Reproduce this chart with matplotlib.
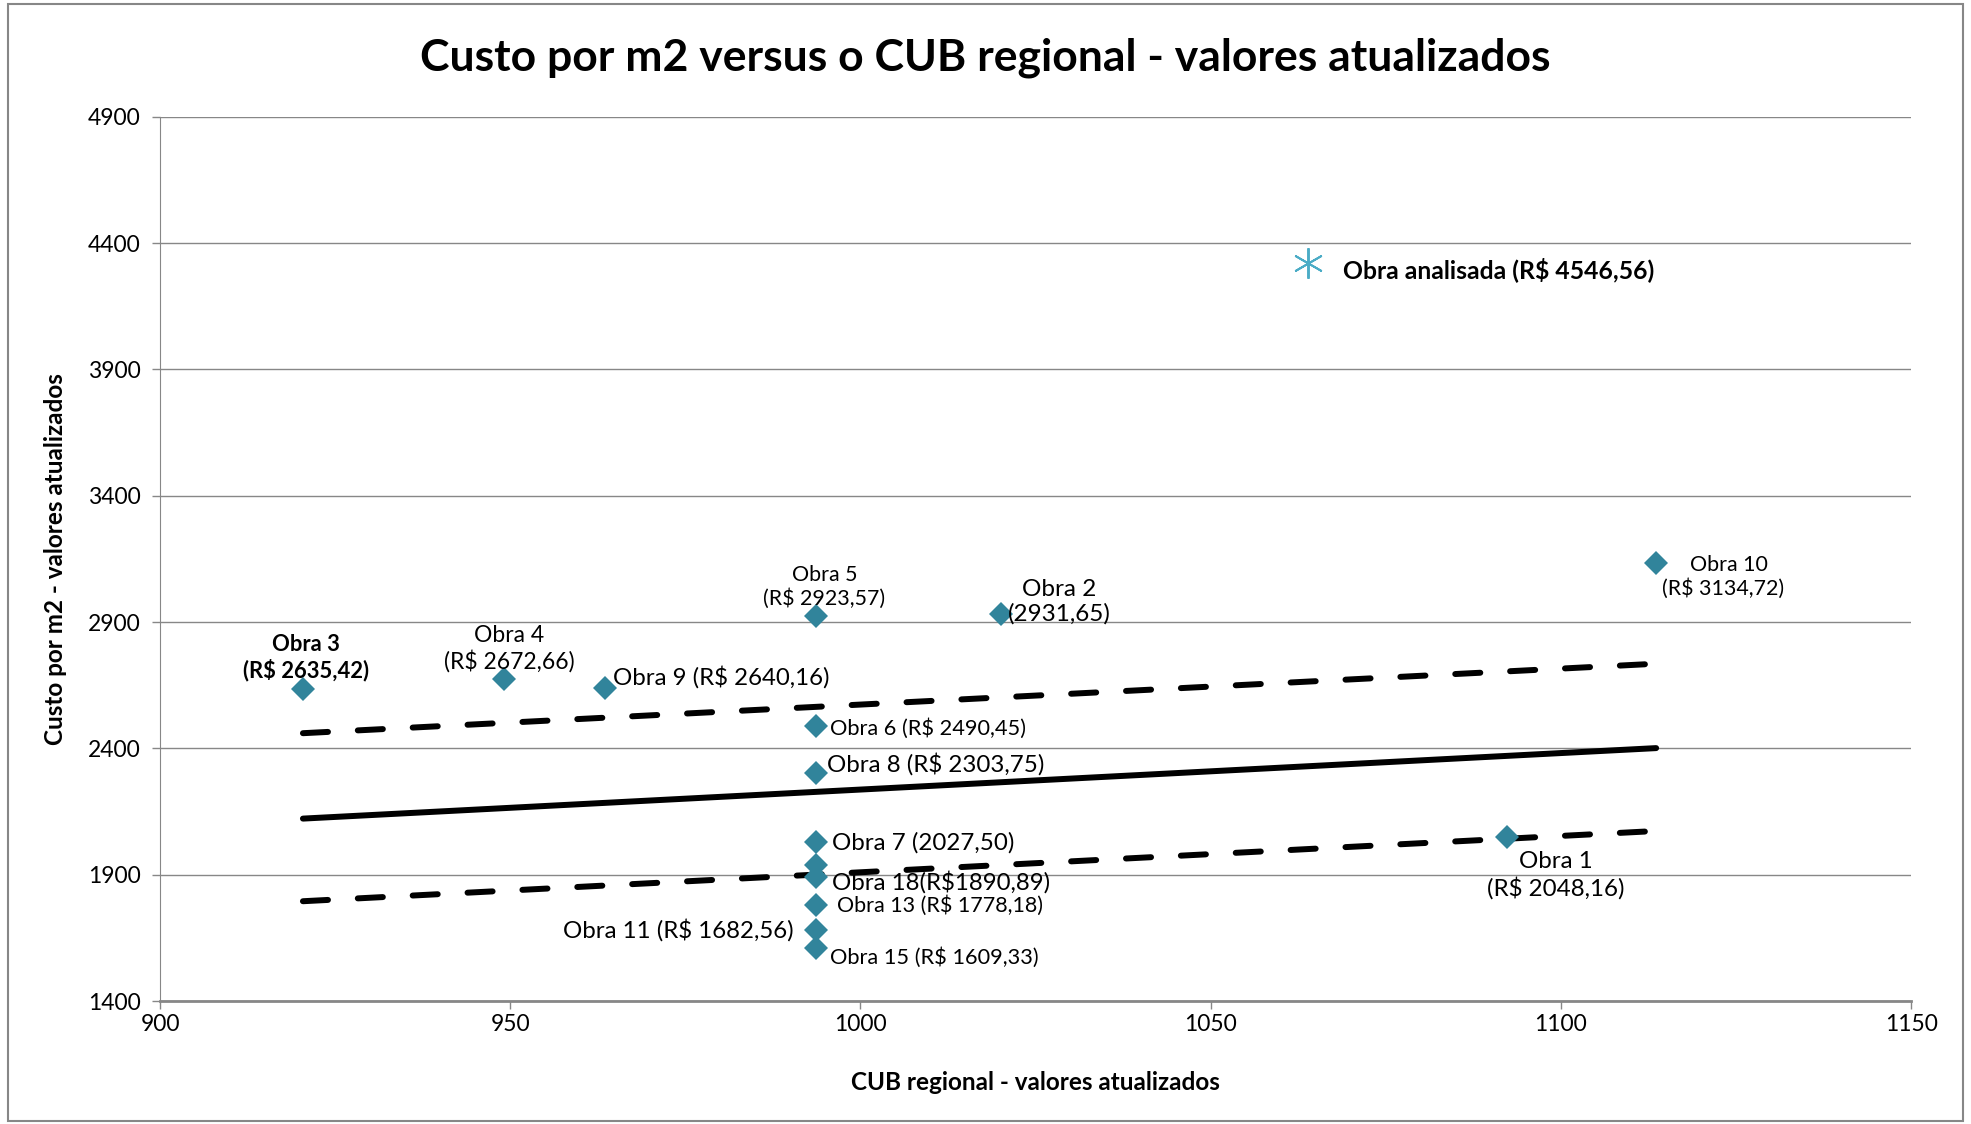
import matplotlib
matplotlib.use("Agg")
import matplotlib.pyplot as plt
from matplotlib.patches import Rectangle

plt.rcParams["font.family"] = ["Lato", "DejaVu Sans"]

# obras de referencia (CUB regional x custo por m2)
obras = ["Obra 3", "Obra 4", "Obra 9", "Obra 5", "Obra 6", "Obra 8", "Obra 7",
         "Obra 19", "Obra 18", "Obra 13", "Obra 11", "Obra 15", "Obra 2",
         "Obra 1", "Obra 10"]
cub = [920.4, 949.1, 963.5, 993.7, 993.7, 993.7, 993.7,
       993.7, 993.7, 993.7, 993.7, 993.7, 1020.1, 1092.3, 1113.6]
custo = [2635.42, 2672.66, 2640.16, 2923.57, 2490.45, 2303.75, 2027.50,
         1938.0, 1890.89, 1778.18, 1682.56, 1609.33, 2931.65, 2048.16, 3134.72]

# obra analisada
anal_cub = [1063.9]
anal_custo = [4322.0]

# linha de tendencia e limites
trend_x = [920.4, 1113.6]
trend_y = [2122, 2401]
upper_y = [2460, 2735]
lower_y = [1795, 2073]

# rotulos: (texto, dx px, dy px, ha, fontsize, bold)
labels = {
    "Obra 3": ("Obra 3\n(R$ 2635,42)", 3, 31, "center", 15.8, True),
    "Obra 4": ("Obra 4\n(R$ 2672,66)", 5, 31, "center", 16.5, False),
    "Obra 9": ("Obra 9 (R$ 2640,16)", 8, 11, "left", 17.3, False),
    "Obra 5": ("Obra 5\n(R$ 2923,57)", 8, 29, "center", 15.4, False),
    "Obra 6": ("Obra 6 (R$ 2490,45)", 14, -3, "left", 15.7, False),
    "Obra 8": ("Obra 8 (R$ 2303,75)", 11, 9, "left", 17.4, False),
    "Obra 7": ("Obra 7 (2027,50)", 16, 0, "left", 17.4, False),
    "Obra 18": ("Obra 18(R$1890,89)", 16, -5, "left", 17.3, False),
    "Obra 13": ("Obra 13 (R$ 1778,18)", 21, 0, "left", 15.5, False),
    "Obra 11": ("Obra 11 (R$ 1682,56)", -23, 0, "right", 17.3, False),
    "Obra 15": ("Obra 15 (R$ 1609,33)", 14, -9, "left", 15.7, False),
    "Obra 2": ("Obra 2\n(2931,65)", 58, 12, "center", 17.5, False),
    "Obra 1": ("Obra 1\n(R$ 2048,16)", 49, -38, "center", 17.4, False),
    "Obra 10": ("  Obra 10\n(R$ 3134,72)", 67, -14, "center", 15.4, False),
}

fig = plt.figure(figsize=(19.71, 11.24), dpi=100)
ax = fig.add_axes([0.0812, 0.1094, 0.8884, 0.7868])

grid_c = "#878787"
ax.set_xlim(900, 1150)
ax.set_ylim(1400, 4900)
ax.set_xticks(range(900, 1151, 50))
ax.set_yticks(range(1400, 4901, 500))
ax.yaxis.grid(True, color=grid_c, lw=1.0)
ax.set_axisbelow(True)
for s in ["top", "right"]:
    ax.spines[s].set_visible(False)
ax.spines["left"].set_color(grid_c)
ax.spines["bottom"].set_color(grid_c)
ax.spines["bottom"].set_linewidth(2.0)
ax.tick_params(axis="both", colors=grid_c, labelcolor="black", labelsize=16.5,
               length=6, width=1.0)
ax.tick_params(axis="x", pad=3)
ax.tick_params(axis="y", pad=8)

ax.plot(trend_x, trend_y, color="black", lw=4.3, solid_capstyle="round", zorder=2)
for yy in (upper_y, lower_y):
    ax.plot(trend_x, yy, color="black", lw=4.3, dashes=(4.2, 5.0),
            dash_capstyle="round", zorder=2)

ax.plot(cub, custo, "D", color="#31849B", ms=12, mew=0, zorder=3)
ax.plot(anal_cub, anal_custo, marker=(6, 2, 0), color="#4BACC6", ms=22,
        mew=1.4, ls="none", zorder=3)

for name, x, y in zip(obras, cub, custo):
    if name not in labels:
        continue
    txt, dx, dy, ha, fs, bold = labels[name]
    ax.annotate(txt, (x, y), xytext=(dx, dy), textcoords="offset pixels",
                ha=ha, va="center", fontsize=fs, linespacing=1.2,
                fontweight="bold" if bold else "normal", zorder=4)

ax.annotate("Obra analisada (R$ 4546,56)", (anal_cub[0], anal_custo[0]),
            xytext=(35, -7), textcoords="offset pixels", ha="left", va="center",
            fontsize=17.8, fontweight="bold")

fig.text(0.5, 0.949, "Custo por m2 versus o CUB regional - valores atualizados",
         ha="center", va="center", fontsize=32, fontweight="bold")
ax.set_xlabel("CUB regional - valores atualizados", fontsize=17.5,
              fontweight="bold", labelpad=26)
ax.set_ylabel("Custo por m2 - valores atualizados", fontsize=17.5,
              fontweight="bold", labelpad=15)

fig.patches.append(Rectangle((0.004, 0.003), 0.992, 0.993, transform=fig.transFigure,
                             fill=False, edgecolor=grid_c, lw=1.5))

fig.savefig("out.png", dpi=100)
